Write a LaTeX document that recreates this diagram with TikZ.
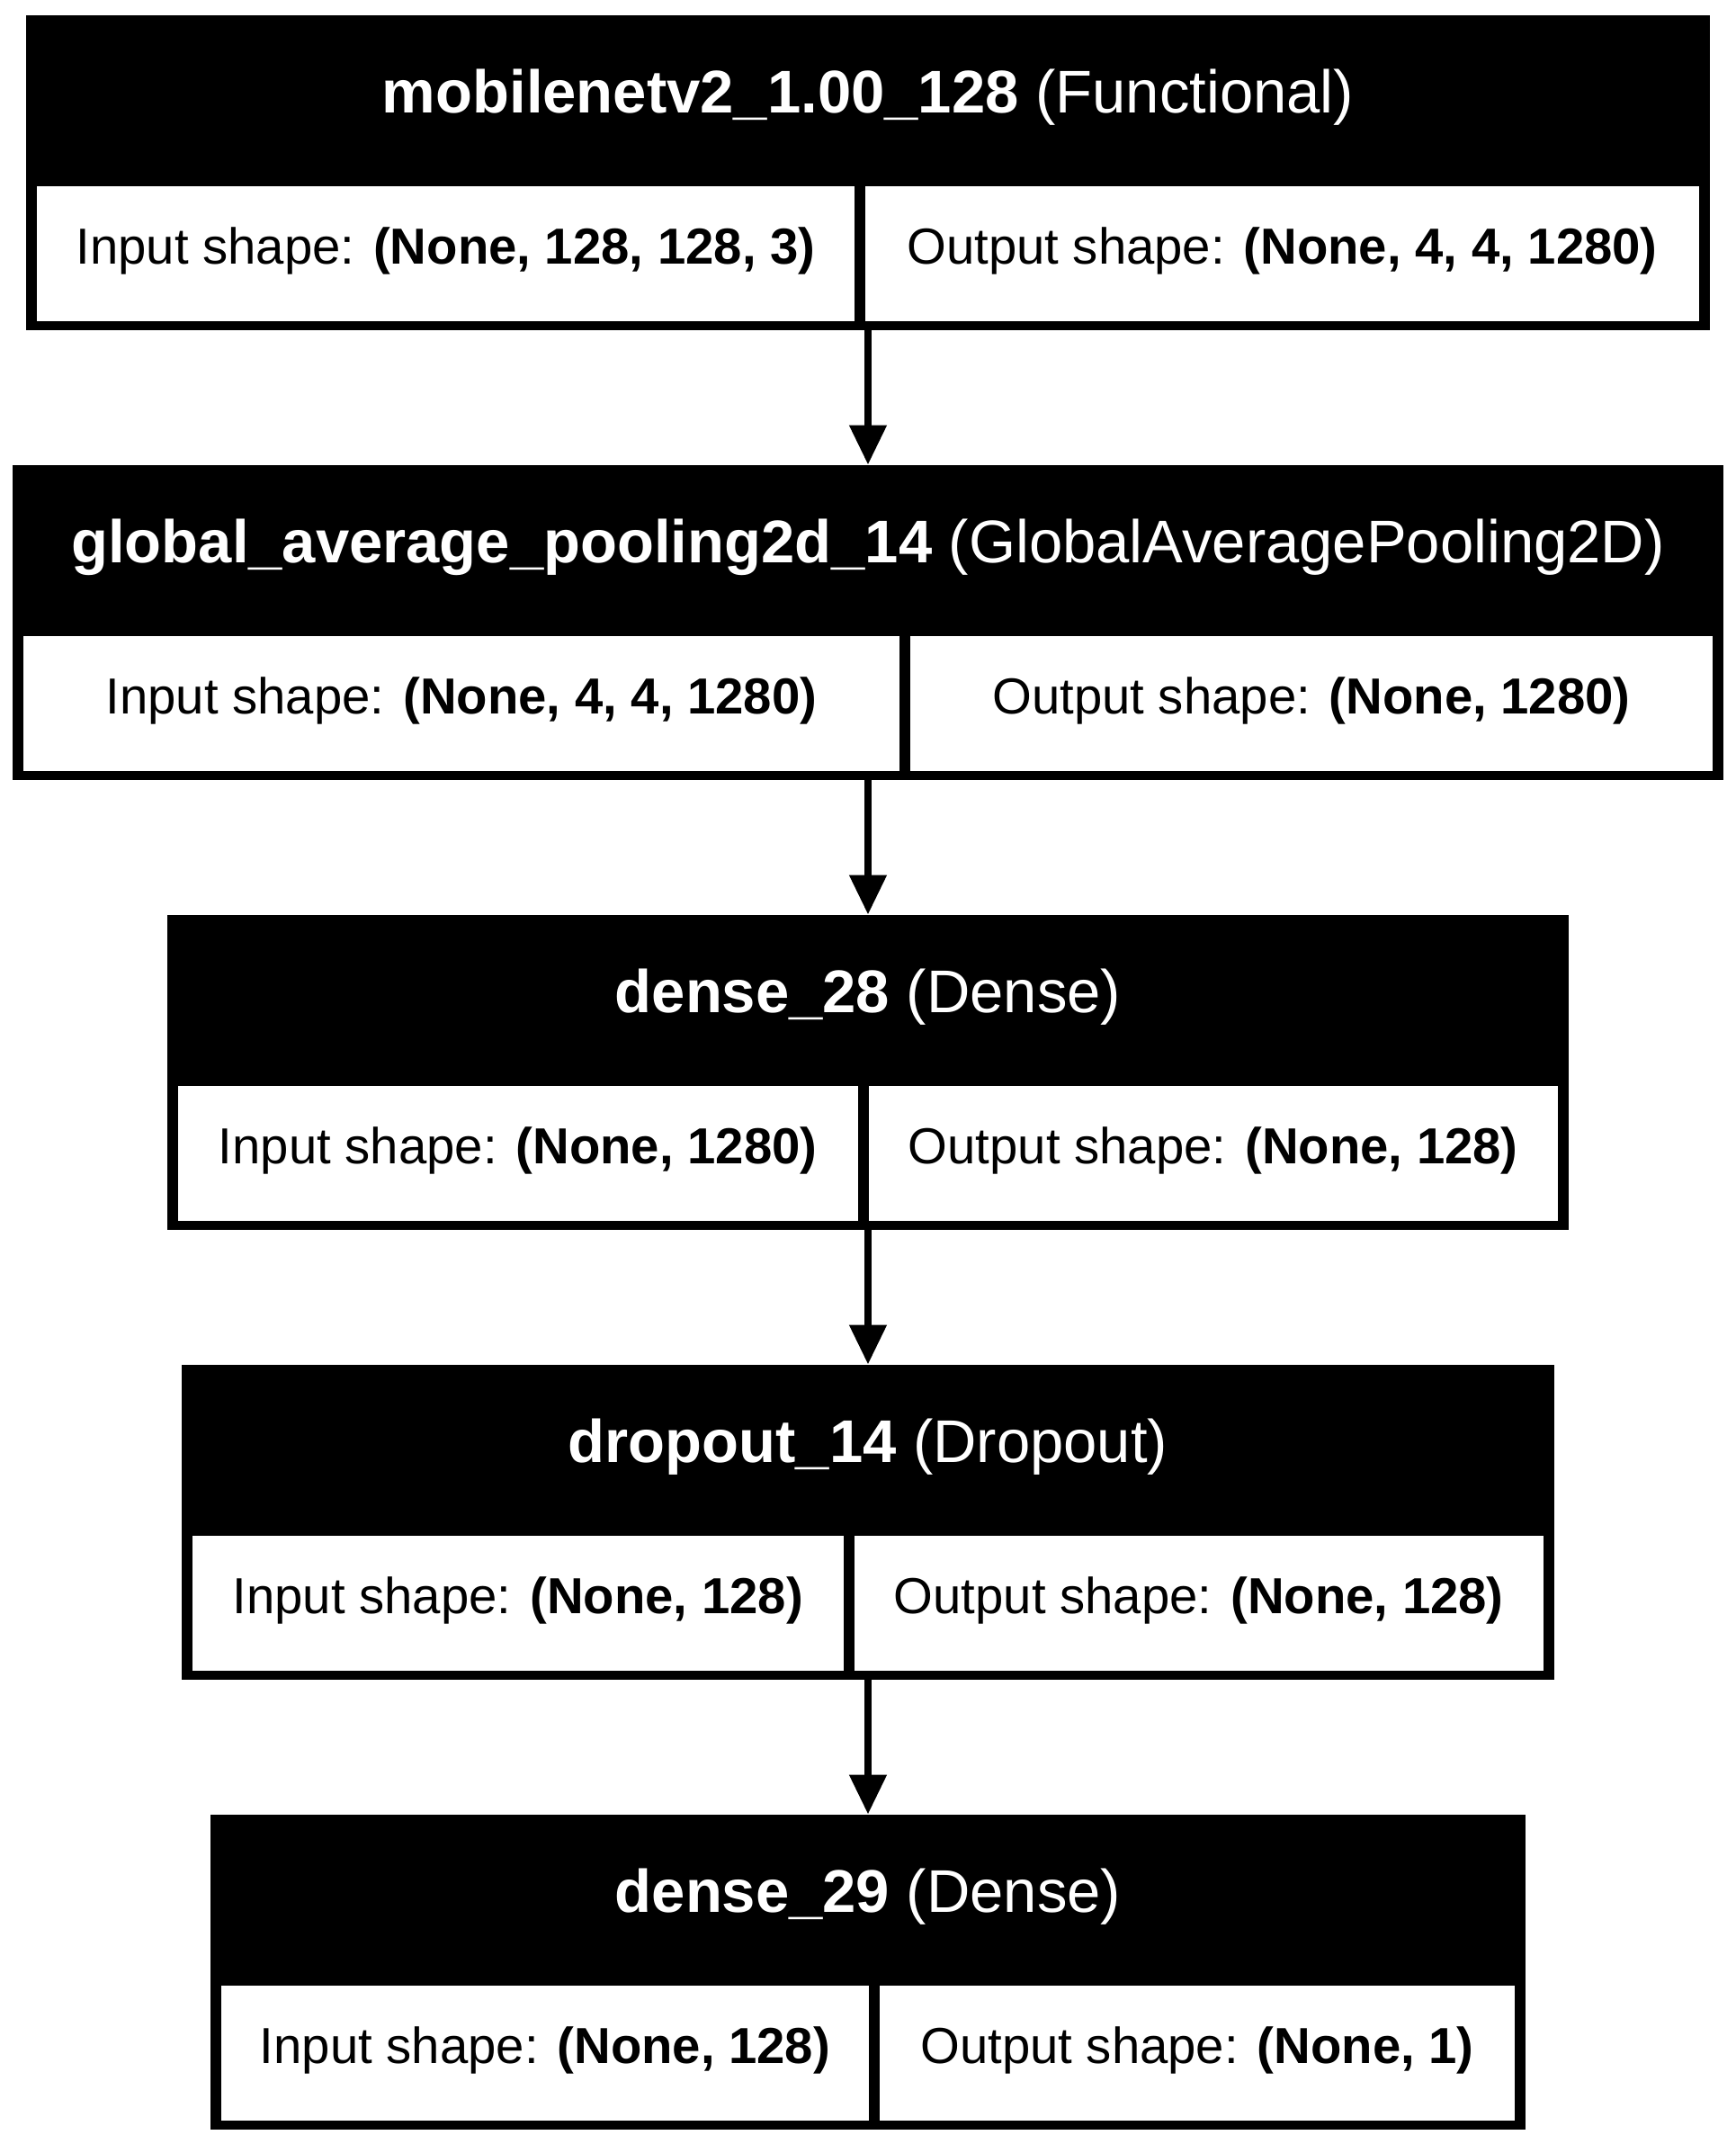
\documentclass[tikz,border=0pt]{standalone}
\usepackage{fontspec}
\setmainfont{Liberation Sans}
\usetikzlibrary{arrows.meta, positioning}
\tikzset{
  block/.style={rectangle, fill=black, inner sep=0pt, outer sep=0pt,
                minimum width=#1, minimum height=175pt},
  block/.default=700pt,
  head/.style={inner sep=0pt, outer sep=0pt, text=white, minimum height=95pt,
               text height=24pt, text depth=10.5pt,
               font=\fontsize{33.5pt}{40pt}\selectfont},
  cell/.style={rectangle, fill=white, inner sep=0pt, outer sep=0pt,
               minimum width=#1, minimum height=75pt,
               text height=20pt, text depth=8.2pt,
               font=\fontsize{28.15pt}{34pt}\selectfont},
  cell/.default=360pt,
  arrow/.style={-{Triangle[length=22pt, width=20pt]}, line width=4pt},
}
\begin{document}
\begin{tikzpicture}[node distance=75pt]
\useasboundingbox (0,0) rectangle (964.5pt,-1191.5pt);

% ── Layer 1: backbone ────────────────────────────────────────────────────────
\node[block=936pt] (base) at (482.5pt,-95.75pt) {};
\node[head, below=0pt of base.north] (basename)
  {\textbf{mobilenetv2\_1.00\_128} (Functional)};
\node[cell=454.5pt, above right=5pt and 6pt of base.south west] (basein)
  {Input shape: \textbf{(None, 128, 128, 3)}};
\node[cell=463.5pt, above left=5pt and 6pt of base.south east] (baseout)
  {Output shape: \textbf{(None, 4, 4, 1280)}};

% ── Layer 2: pooling ─────────────────────────────────────────────────────────
\node[block=951pt, below=of base] (pool) {};
\node[head, below=0pt of pool.north] (poolname)
  {\textbf{global\_average\_pooling2d\_14} (GlobalAveragePooling2D)};
\node[cell=487pt, above right=5pt and 6pt of pool.south west] (poolin)
  {Input shape: \textbf{(None, 4, 4, 1280)}};
\node[cell=446pt, above left=5pt and 6pt of pool.south east] (poolout)
  {Output shape: \textbf{(None, 1280)}};

% ── Layer 3: first dense ─────────────────────────────────────────────────────
\node[block=779pt, below=of pool] (fca) {};
\node[head, below=0pt of fca.north] (fcaname)
  {\textbf{dense\_28} (Dense)};
\node[cell=377.75pt, above right=5pt and 6pt of fca.south west] (fcain)
  {Input shape: \textbf{(None, 1280)}};
\node[cell=383.25pt, above left=5pt and 6pt of fca.south east] (fcaout)
  {Output shape: \textbf{(None, 128)}};

% ── Layer 4: dropout ─────────────────────────────────────────────────────────
\node[block=763pt, below=of fca] (drop) {};
\node[head, below=0pt of drop.north] (dropname)
  {\textbf{dropout\_14} (Dropout)};
\node[cell=361.75pt, above right=5pt and 6pt of drop.south west] (dropin)
  {Input shape: \textbf{(None, 128)}};
\node[cell=383.25pt, above left=5pt and 6pt of drop.south east] (dropout)
  {Output shape: \textbf{(None, 128)}};

% ── Layer 5: output dense ────────────────────────────────────────────────────
\node[block=731pt, below=of drop] (fcb) {};
\node[head, below=0pt of fcb.north] (fcbname)
  {\textbf{dense\_29} (Dense)};
\node[cell=360pt, above right=5pt and 6pt of fcb.south west] (fcbin)
  {Input shape: \textbf{(None, 128)}};
\node[cell=353pt, above left=5pt and 6pt of fcb.south east] (fcbout)
  {Output shape: \textbf{(None, 1)}};

% ── Arrows ───────────────────────────────────────────────────────────────────
\draw[arrow] (base.south) -- (pool.north);
\draw[arrow] (pool.south) -- (fca.north);
\draw[arrow] (fca.south) -- (drop.north);
\draw[arrow] (drop.south) -- (fcb.north);

\end{tikzpicture}
\end{document}
